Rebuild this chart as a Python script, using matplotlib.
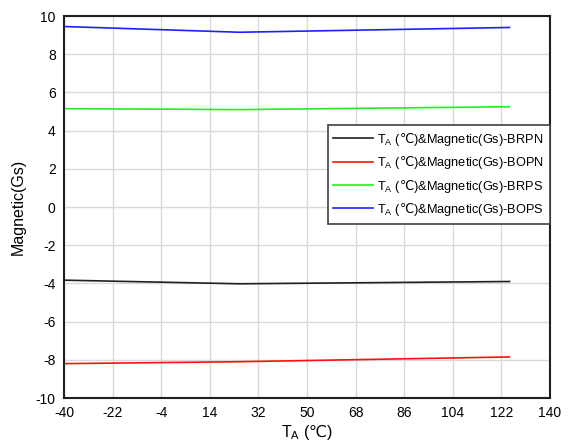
import matplotlib
matplotlib.use('Agg')
import matplotlib.pyplot as plt

plt.rcParams['font.family'] = ['Liberation Sans', 'DejaVu Sans']
plt.rcParams['mathtext.fontset'] = 'custom'
plt.rcParams['mathtext.rm'] = 'Liberation Sans'
plt.rcParams['mathtext.sf'] = 'DejaVu Sans'
plt.rcParams['axes.unicode_minus'] = False

# temperature points (℃)
temp = [-40, 25, 125]
# magnetic values (Gs)
brpn = [-3.83, -4.02, -3.9]
bopn = [-8.2, -8.1, -7.85]
brps = [5.15, 5.1, 5.25]
bops = [9.45, 9.15, 9.4]

xticks = [-40, -22, -4, 14, 32, 50, 68, 86, 104, 122, 140]
yticks = [-10, -8, -6, -4, -2, 0, 2, 4, 6, 8, 10]

pre = r'T$_{\mathrm{A}}$ ($\mathsf{℃}$)&Magnetic(Gs)-'

fig = plt.figure(figsize=(5.72, 4.46), dpi=100)
ax = fig.add_axes([0.1119, 0.1076, 0.8497, 0.8565])

ax.plot(temp, brpn, color='#202020', lw=1.2, label=pre + 'BRPN')
ax.plot(temp, bopn, color='#ff1010', lw=1.2, label=pre + 'BOPN')
ax.plot(temp, brps, color='#22ee22', lw=1.2, label=pre + 'BRPS')
ax.plot(temp, bops, color='#2020ff', lw=1.2, label=pre + 'BOPS')

ax.set_xlim(-40, 140)
ax.set_ylim(-10, 10)
ax.set_xticks(xticks)
ax.set_yticks(yticks)
ax.tick_params(length=0, labelsize=10)
ax.tick_params(axis='x', pad=6)
ax.tick_params(axis='y', pad=6)
ax.grid(True, color='#d9d9d9', lw=1)
ax.set_axisbelow(True)
for s in ax.spines.values():
    s.set_linewidth(1.5)
    s.set_color('#202020')

ax.set_xlabel(r'T$_{\mathrm{A}}$ ($\mathsf{℃}$)', fontsize=11.5, labelpad=2)
ax.set_ylabel('Magnetic(Gs)', fontsize=11.5, labelpad=7)

leg = fig.legend(loc='upper right', bbox_to_anchor=(0.9615, 0.7197), fontsize=9.2,
                 frameon=True, fancybox=False, handlelength=3.1, handletextpad=0.35,
                 borderpad=0.45, labelspacing=0.5, borderaxespad=0)
leg.get_frame().set_edgecolor('#404040')
leg.get_frame().set_linewidth(1.2)
leg.get_frame().set_alpha(1)

fig.savefig('out.png', dpi=100)
